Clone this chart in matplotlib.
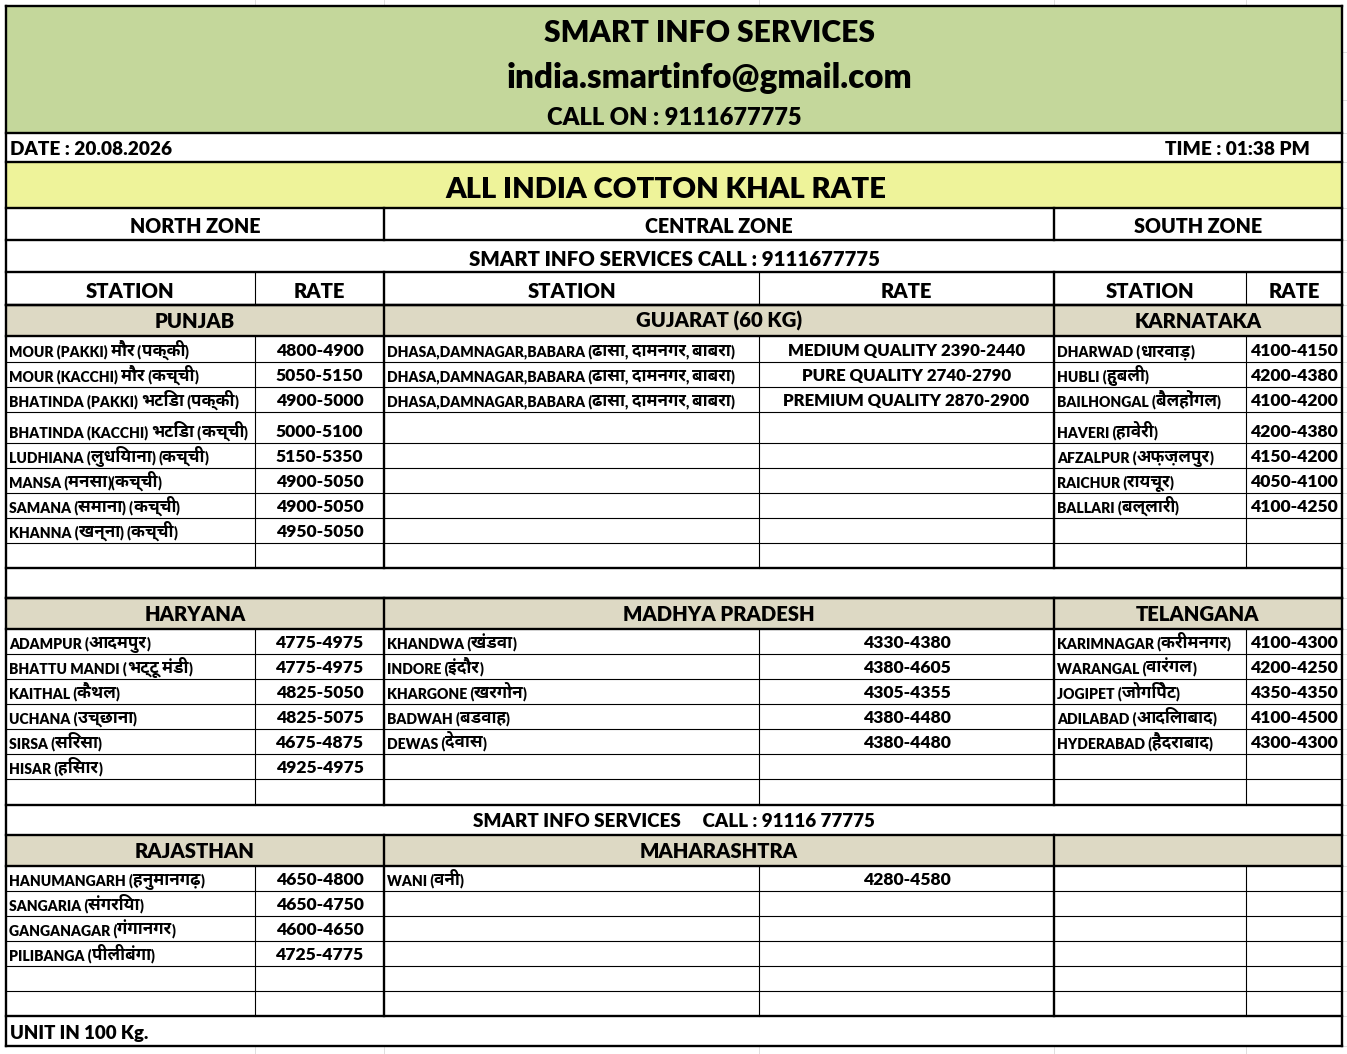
import matplotlib
matplotlib.use('Agg')
import matplotlib.pyplot as plt
from matplotlib import font_manager as fm
from matplotlib.ft2font import FT2Font
from matplotlib.patches import Rectangle

# ---------------- data ----------------
header_lines = ["SMART INFO SERVICES", "india.smartinfo@gmail.com", "CALL ON : 9111677775"]
date_text = "DATE : 20.08.2026"
time_text = "TIME : 01:38 PM"
title_text = "ALL INDIA COTTON KHAL RATE"
zones = ["NORTH ZONE", "CENTRAL ZONE", "SOUTH ZONE"]
call_line = "SMART INFO SERVICES CALL : 9111677775"
col_headers = ["STATION", "RATE", "STATION", "RATE", "STATION", "RATE"]
call_line2 = "SMART INFO SERVICES     CALL : 91116 77775"
unit_text = "UNIT IN 100 Kg."

state_names_1 = ["PUNJAB", "GUJARAT (60 KG)", "KARNATAKA"]
punjab_stations = ["MOUR (PAKKI) मौर (पक्की)", "MOUR (KACCHI) मौर (कच्ची)",
                   "BHATINDA (PAKKI) भटिंडा (पक्की)", "BHATINDA (KACCHI) भटिंडा (कच्ची)",
                   "LUDHIANA (लुधियाना) (कच्ची)", "MANSA (मनसा)(कच्ची)",
                   "SAMANA (समाना) (कच्ची)", "KHANNA (खन्ना) (कच्ची)"]
punjab_rates = ["4800-4900", "5050-5150", "4900-5000", "5000-5100",
                "5150-5350", "4900-5050", "4900-5050", "4950-5050"]
gujarat_stations = ["DHASA,DAMNAGAR,BABARA (ढासा, दामनगर, बाबरा)"] * 3
gujarat_rates = ["MEDIUM QUALITY 2390-2440", "PURE QUALITY 2740-2790", "PREMIUM QUALITY 2870-2900"]
karnataka_stations = ["DHARWAD (धारवाड़)", "HUBLI (हुबली)", "BAILHONGAL (बैलहोंगल)",
                      "HAVERI (हावेरी)", "AFZALPUR (अफ़ज़लपुर)", "RAICHUR (रायचूर)", "BALLARI (बल्लारी)"]
karnataka_rates = ["4100-4150", "4200-4380", "4100-4200", "4200-4380",
                   "4150-4200", "4050-4100", "4100-4250"]

state_names_2 = ["HARYANA", "MADHYA PRADESH", "TELANGANA"]
haryana_stations = ["ADAMPUR (आदमपुर)", "BHATTU MANDI (भट्टू मंडी)", "KAITHAL (कैथल)",
                    "UCHANA (उच्छाना)", "SIRSA (सिरसा)", "HISAR (हिसार)"]
haryana_rates = ["4775-4975", "4775-4975", "4825-5050", "4825-5075", "4675-4875", "4925-4975"]
mp_stations = ["KHANDWA (खंडवा)", "INDORE (इंदौर)", "KHARGONE (खरगोन)", "BADWAH (बडवाह)", "DEWAS (देवास)"]
mp_rates = ["4330-4380", "4380-4605", "4305-4355", "4380-4480", "4380-4480"]
telangana_stations = ["KARIMNAGAR (करीमनगर)", "WARANGAL (वारंगल)", "JOGIPET (जोगिपेट)",
                      "ADILABAD (आदिलाबाद)", "HYDERABAD (हैदराबाद)"]
telangana_rates = ["4100-4300", "4200-4250", "4350-4350", "4100-4500", "4300-4300"]

state_names_3 = ["RAJASTHAN", "MAHARASHTRA", ""]
rajasthan_stations = ["HANUMANGARH (हनुमानगढ़)", "SANGARIA (संगरिया)", "GANGANAGAR (गंगानगर)", "PILIBANGA (पीलीबंगा)"]
rajasthan_rates = ["4650-4800", "4650-4750", "4600-4650", "4725-4775"]
maharashtra_stations = ["WANI (वनी)"]
maharashtra_rates = ["4280-4580"]
south3_stations = []
south3_rates = []

# ---------------- fonts ----------------
deva_cands = {}
for f in fm.fontManager.ttflist:
    if 'CJK' in f.name:
        continue
    try:
        if 0x0915 in FT2Font(f.fname).get_charmap():
            w = f.weight if isinstance(f.weight, int) else (700 if 'bold' in str(f.weight) else 400)
            deva_cands[f.name] = max(deva_cands.get(f.name, 0), w)
    except Exception:
        pass
deva = None
if deva_cands:
    deva = sorted(deva_cands.items(), key=lambda kv: (-kv[1], 0 if 'Noto' in kv[0] else 1, kv[0]))[0][0]
FAM = ['Lato'] + ([deva] if deva else []) + ['DejaVu Sans']
DFAM = ([deva] if deva else []) + ['Lato', 'DejaVu Sans']
DEVA_SCALE = 1.22
WEIGHT = 800

# ---------------- layout ----------------
W, H = 1347, 1054
fig = plt.figure(figsize=(W / 100, H / 100), dpi=100)
ax = fig.add_axes([0, 0, 1, 1])
ax.set_xlim(0, W)
ax.set_ylim(H, 0)
ax.axis('off')
renderer = fig.canvas.get_renderer()

L, R = 6, 1342
XC = [6, 255, 384, 759, 1054, 1246, 1342]
GREEN, YELLOW, BEIGE = '#C4D79B', '#EEF39A', '#DDD9C4'
THICK, THIN = 1.7, 0.8
SF = 0.9  # font scale


def fill(x0, y0, x1, y1, c):
    ax.add_patch(Rectangle((x0, y0), x1 - x0, y1 - y0, facecolor=c, edgecolor='none', zorder=1))


def hl(y, x0=L, x1=R, lw=THICK, c='black'):
    ax.plot([x0, x1], [y, y], color=c, lw=lw, solid_capstyle='projecting', zorder=3)


def vl(x, y0, y1, lw=THICK, c='black'):
    ax.plot([x, x], [y0, y1], color=c, lw=lw, solid_capstyle='projecting', zorder=3)


def txt(x, y, s, size, ha='center', fam=None, weight=None):
    return ax.text(x, y, s, fontsize=size * SF, ha=ha, va='baseline',
                   fontweight=weight or WEIGHT, family=fam or FAM, color='black', zorder=4)


def width(s, size, fam, weight):
    a = txt(0, 0, '|' + s + '|', size, ha='left', fam=fam, weight=weight)
    b = txt(0, 0, '||', size, ha='left', fam=fam, weight=weight)
    w = a.get_window_extent(renderer).width - b.get_window_extent(renderer).width
    a.remove()
    b.remove()
    return w


def is_deva(c):
    return 0x0900 <= ord(c) <= 0x097F or c in '\u200c\u200d'


def mixed(x, y, s, size):
    runs = []
    for c in s:
        d = is_deva(c)
        if runs and runs[-1][0] == d:
            runs[-1][1] += c
        else:
            runs.append([d, c])
    for d, seg in runs:
        sz = size * DEVA_SCALE if d else size
        fam = DFAM if d else FAM
        wt = 'bold' if d else WEIGHT
        txt(x, y, seg, sz, ha='left', fam=fam, weight=wt)
        x += width(seg, sz, fam, wt)


# faint spreadsheet gridlines outside table
for x in XC[1:-1]:
    vl(x, 0, L, lw=0.6, c='#D9D9D9')
    vl(x, 1046, H, lw=0.6, c='#D9D9D9')
for y in [52, 100, 133, 162, 208, 240, 272, 305, 336, 362, 387, 412, 443, 468, 493, 518, 543, 568,
          598, 629, 654, 679, 704, 729, 754, 779, 805, 835, 866, 891, 916, 941, 966, 991, 1016, 1046]:
    hl(y, R, W, lw=0.6, c='#D9D9D9')

# header blocks
fill(L, 6, R, 133, GREEN)
txt(710, 42, header_lines[0], 24)
txt(710, 88, header_lines[1], 26.5)
txt(674, 125, header_lines[2], 19)

txt(10, 155, date_text, 15.2, ha='left')
txt(1310, 155, time_text, 15.2, ha='right')

fill(L, 162, R, 208, YELLOW)
txt(666, 198, title_text, 23.4)

for i, z in enumerate(zones):
    x0, x1 = [(6, 384), (384, 1054), (1054, 1342)][i]
    txt((x0 + x1) / 2, 233, z, 15.8)
txt(674, 266, call_line, 16.3)
for i, h in enumerate(col_headers):
    txt((XC[i] + XC[i + 1]) / 2, 298, h, 16.2)

for y in [6, 133, 162, 208, 240, 272, 305]:
    hl(y)
vl(384, 208, 240)
vl(1054, 208, 240)
vl(384, 272, 305)
vl(1054, 272, 305)
for x in (255, 759, 1246):
    vl(x, 272, 305, lw=THIN)


def section(top, hb, edges, names, groups):
    fill(L, top, R, hb, BEIGE)
    centers = [(6 + 384) / 2, (384 + 1054) / 2, (1054 + 1342) / 2]
    for c, n in zip(centers, names):
        if n:
            txt(c, hb - 8, n, 16.2)
    hl(top)
    hl(hb)
    for y in edges[1:-1]:
        hl(y, lw=THIN)
    hl(edges[-1])
    vl(384, top, edges[-1])
    vl(1054, top, edges[-1])
    for x in (255, 759, 1246):
        vl(x, hb, edges[-1], lw=THIN)
    starts = [(6, 255, 384, 14), (384, 759, 1054, 13.4), (1054, 1246, 1342, 14)]
    for (xs, xm, xe, rsz), (stations, rates) in zip(starts, groups):
        for i, (s, r) in enumerate(zip(stations, rates)):
            yb = edges[i + 1] - 6
            mixed(xs + 3, yb, s, 11.2)
            txt((xm + xe) / 2, yb, r, rsz if len(r) > 10 else 14)


section(305, 336, [336, 362, 387, 412, 443, 468, 493, 518, 543, 568], state_names_1,
        [(punjab_stations, punjab_rates), (gujarat_stations, gujarat_rates),
         (karnataka_stations, karnataka_rates)])
hl(598)
section(598, 629, [629, 654, 679, 704, 729, 754, 779, 805], state_names_2,
        [(haryana_stations, haryana_rates), (mp_stations, mp_rates),
         (telangana_stations, telangana_rates)])
txt(674, 827, call_line2, 15)
section(835, 866, [866, 891, 916, 941, 966, 991, 1016], state_names_3,
        [(rajasthan_stations, rajasthan_rates), (maharashtra_stations, maharashtra_rates),
         (south3_stations, south3_rates)])
txt(10, 1039, unit_text, 14.9, ha='left')
hl(1046)
vl(L, 6, 1046)
vl(R, 6, 1046)

fig.savefig('out.png', dpi=100, facecolor='white')
